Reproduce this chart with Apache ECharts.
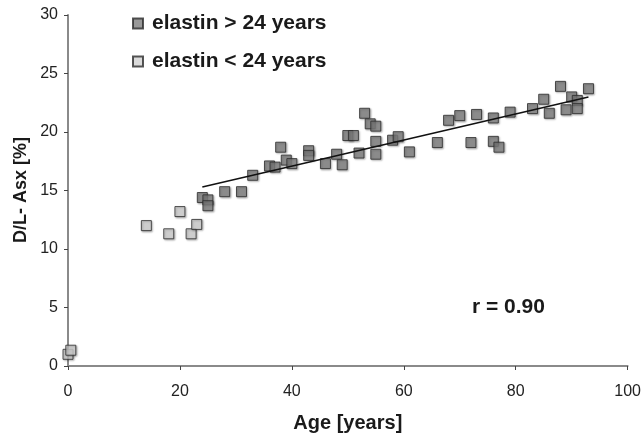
<!DOCTYPE html>
<html>
<head>
<meta charset="utf-8">
<script src="https://cdn.jsdelivr.net/npm/echarts@6/dist/echarts.min.js"></script>
<style>
  html, body { margin: 0; padding: 0; background: #fff; }
  #main { width: 644px; height: 438px; }
</style>
</head>
<body>
<div id="main"></div>
<script>
// elastin older than 24 years
const oldAge = [24, 25, 25, 28, 31, 33, 36, 37, 38, 39, 40, 43, 43, 46, 48, 49, 50, 51, 52, 53, 54, 55, 55, 55,
  58, 59, 61, 66, 68, 70, 72, 73, 76, 76, 77, 79, 83, 85, 86, 88, 89, 90, 91, 91, 93];
const oldAsx = [14.4, 14.2, 13.7, 14.9, 14.9, 16.3, 17.1, 17.0, 18.7, 17.6, 17.3, 18.4, 18.0, 17.3, 18.1, 17.2, 19.7, 19.7, 18.2, 21.6, 20.7, 20.5, 19.2, 18.1,
  19.3, 19.6, 18.3, 19.1, 21.0, 21.4, 19.1, 21.5, 21.2, 19.2, 18.7, 21.7, 22.0, 22.8, 21.6, 23.9, 21.9, 23.0, 22.7, 22.0, 23.7];
// elastin younger than 24 years
const youngAge = [0, 0.5, 14, 18, 20, 22, 23];
const youngAsx = [1.0, 1.35, 12.0, 11.3, 13.2, 11.3, 12.1];
// fit line ends
const fitAge = [24, 93];
const fitAsx = [15.3, 23.0];

const xTicks = [0, 20, 40, 60, 80, 100];
const yTicks = [0, 5, 10, 15, 20, 25, 30];

const font = "'Liberation Sans', Arial, sans-serif";

function pairs(xs, ys) {
  return xs.map((x, i) => [x, ys[i]]);
}

const markerShadow = {
  shadowColor: "rgba(0,0,0,0.35)",
  shadowBlur: 2,
  shadowOffsetX: 1,
  shadowOffsetY: 1
};

var myChart = echarts.init(document.getElementById("main"), null, { renderer: "canvas" });

const options = {
  animation: false,
  grid: { left: 68, right: 15, top: 15, bottom: 69 },
  legend: {
    orient: "vertical",
    left: 127,
    top: 8,
    itemWidth: 10,
    itemHeight: 10,
    itemGap: 17,
    icon: "rect",
    textStyle: { fontFamily: font, fontSize: 21, fontWeight: "bold", color: "#1a1a1a", padding: [0, 0, 0, 4] },
    data: ["elastin > 24 years", "elastin < 24 years"]
  },
  xAxis: {
    type: "value",
    min: xTicks[0],
    max: xTicks[xTicks.length - 1],
    interval: 20,
    name: "Age [years]",
    nameLocation: "middle",
    nameGap: 47,
    nameTextStyle: { fontFamily: font, fontSize: 20, fontWeight: "bold", color: "#1a1a1a" },
    axisLine: { lineStyle: { color: "#8a8a8a", width: 2 } },
    axisTick: { show: true, length: 4, lineStyle: { color: "#444" } },
    axisLabel: { fontFamily: font, fontSize: 16, color: "#222", margin: 18 },
    splitLine: { show: false }
  },
  yAxis: {
    type: "value",
    min: yTicks[0],
    max: yTicks[yTicks.length - 1],
    interval: 5,
    axisLine: { show: true, lineStyle: { color: "#8a8a8a", width: 2 } },
    axisTick: { show: true, length: 4, lineStyle: { color: "#444" } },
    axisLabel: { fontFamily: font, fontSize: 16, color: "#222", margin: 10 },
    splitLine: { show: false }
  },
  graphic: [
    {
      type: "text",
      left: 472,
      top: 297,
      style: { text: "r = 0.90", fontFamily: font, fontSize: 21, fontWeight: "bold", fill: "#1a1a1a" }
    },
    {
      type: "text",
      x: 21,
      y: 190,
      rotation: Math.PI / 2,
      style: {
        text: "D/L- Asx [%]",
        fontFamily: font,
        fontSize: 18,
        fontWeight: "bold",
        fill: "#1a1a1a",
        align: "center",
        verticalAlign: "middle"
      }
    }
  ],
  series: [
    {
      name: "elastin < 24 years",
      type: "scatter",
      symbol: "rect",
      symbolSize: 10,
      data: pairs(youngAge, youngAsx),
      itemStyle: Object.assign({ color: "#d2d2d2", borderColor: "#2a2a2a", borderWidth: 1 }, markerShadow),
      z: 2
    },
    {
      name: "elastin > 24 years",
      type: "scatter",
      symbol: "rect",
      symbolSize: 10,
      data: pairs(oldAge, oldAsx),
      itemStyle: Object.assign({ color: "#7f7f7f", borderColor: "#2a2a2a", borderWidth: 1 }, markerShadow),
      z: 3
    },
    {
      name: "fit",
      type: "line",
      data: pairs(fitAge, fitAsx),
      symbol: "none",
      lineStyle: { color: "#111", width: 1.5 },
      z: 4
    }
  ]
};

myChart.setOption(options);
window.onresize = function() {
  myChart.resize();
};
</script>
</body>
</html>
